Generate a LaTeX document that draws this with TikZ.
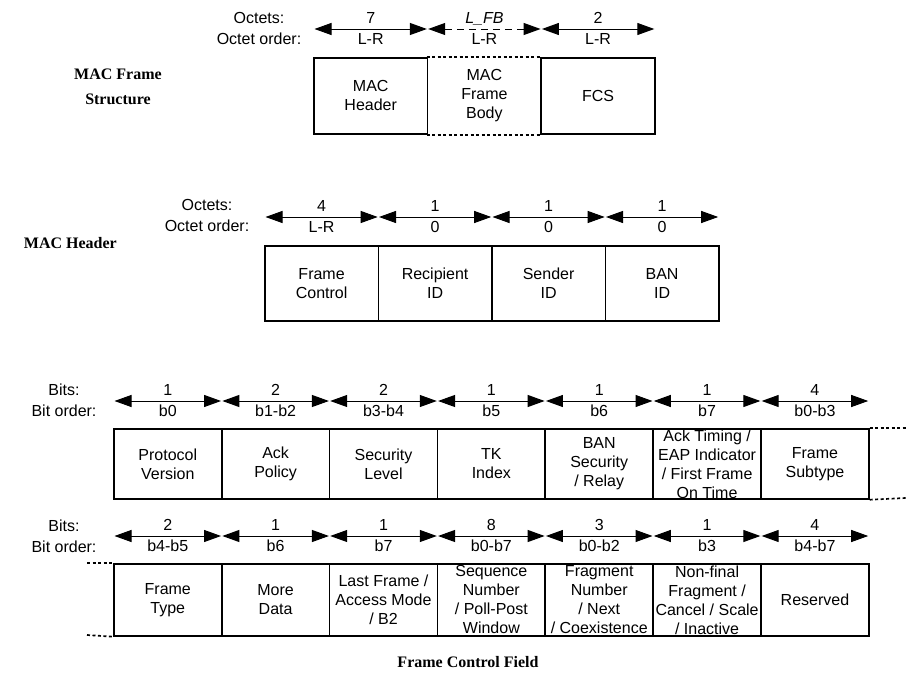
\documentclass[tikz,border=0pt]{standalone}
\usepackage{fontspec}
\setmainfont{Liberation Serif}
\newfontfamily\sansfnt{Liberation Sans}
\usetikzlibrary{arrows.meta}
\begin{document}
\begin{tikzpicture}[x=1pt,y=-1pt,
  cell/.style={draw, line width=1.7pt, inner sep=0pt, anchor=north west,
    align=center, font=\sansfnt\fontsize{16}{19}\selectfont},
  bodycell/.style={cell, draw=none},
  dimarrow/.style={{Triangle[length=17pt,width=12pt]}-{Triangle[length=17pt,width=12pt]},
    line width=1pt, shorten >=1.5pt, shorten <=1.5pt},
  dimlbl/.style={anchor=base, inner sep=0pt, font=\sansfnt\fontsize{16}{19}\selectfont},
  sidelbl/.style={align=center, inner sep=0pt, font=\sansfnt\fontsize{16}{21}\selectfont},
  title/.style={align=center, inner sep=0pt, font=\bfseries\fontsize{16}{25}\selectfont},
  dotedge/.style={line width=1.7pt, dash pattern=on 3pt off 2.5pt}
]
\useasboundingbox (0,0) rectangle (906,696);

% ---------------- MAC frame structure ----------------
\node[title] (tframe) at (118,87) {MAC Frame\\Structure};
\node[sidelbl] (sframe) at (259,28.5) {Octets:\\Octet order:};

\node[cell, minimum width=113.7, minimum height=76] (hdr) at (313,57) {MAC\\Header};
\node[bodycell, minimum width=113.7, minimum height=76] (body) at (426.7,57) {MAC\\Frame\\Body};
\node[cell, minimum width=113.7, minimum height=76] (fcs) at (540.4,57) {FCS};
\draw[dotedge] (body.north west) -- (body.north east);
\draw[dotedge] (body.south west) -- (body.south east);

\draw[dimarrow] ([yshift=28]hdr.north west) -- ([yshift=28]hdr.north east);
\draw[dimarrow, dash pattern=on 7pt off 5pt] ([yshift=28]body.north west) -- ([yshift=28]body.north east);
\draw[dimarrow] ([yshift=28]fcs.north west) -- ([yshift=28]fcs.north east);
\node[dimlbl] (hdrn) at ([yshift=33.5]hdr.north) {7};
\node[dimlbl] (hdro) at ([yshift=12.5]hdr.north) {L-R};
\node[dimlbl] (bodyn) at ([yshift=33.5]body.north) {\itshape L\_FB};
\node[dimlbl] (bodyo) at ([yshift=12.5]body.north) {L-R};
\node[dimlbl] (fcsn) at ([yshift=33.5]fcs.north) {2};
\node[dimlbl] (fcso) at ([yshift=12.5]fcs.north) {L-R};

% ---------------- MAC header ----------------
\node[title, anchor=east] (thdr) at (117,243) {MAC Header};
\node[sidelbl] (shdr) at (207,215.5) {Octets:\\Octet order:};

\foreach \i/\txt/\n/\o in {
    0/{Frame\\Control}/4/L-R,
    1/{Recipient\\ID}/1/0,
    2/{Sender\\ID}/1/0,
    3/{BAN\\ID}/1/0} {
  \node[cell, minimum width=113.5, minimum height=75] (mh\i) at (264+\i*113.5,245) {\txt};
  \draw[dimarrow] ([yshift=28]mh\i.north west) -- ([yshift=28]mh\i.north east);
  \node[dimlbl] (mh\i n) at ([yshift=33.5]mh\i.north) {\n};
  \node[dimlbl] (mh\i o) at ([yshift=12.5]mh\i.north) {\o};
}

% ---------------- Frame control field ----------------
\node[sidelbl] (sfc1) at (64,400.5) {Bits:\\Bit order:};
\node[sidelbl] (sfc2) at (64,536) {Bits:\\Bit order:};

\foreach \i/\txt/\n/\o in {
    0/{Protocol\\Version}/1/b0,
    1/{Ack\\Policy}/2/b1-b2,
    2/{Security\\Level}/2/b3-b4,
    3/{TK\\Index}/1/b5,
    4/{BAN\\Security\\/ Relay}/1/b6,
    5/{Ack Timing /\\EAP Indicator\\/ First Frame\\On Time}/1/b7,
    6/{Frame\\Subtype}/4/b0-b3} {
  \node[cell, minimum width=107.86, minimum height=70] (fa\i) at (113+\i*107.86,428) {\txt};
  \draw[dimarrow] ([yshift=27]fa\i.north west) -- ([yshift=27]fa\i.north east);
  \node[dimlbl] (fa\i n) at ([yshift=32.5]fa\i.north) {\n};
  \node[dimlbl] (fa\i o) at ([yshift=11.5]fa\i.north) {\o};
}

\foreach \i/\txt/\n/\o in {
    0/{Frame\\Type}/2/b4-b5,
    1/{More\\Data}/1/b6,
    2/{Last Frame /\\Access Mode\\/ B2}/1/b7,
    3/{Sequence\\Number\\/ Poll-Post\\Window}/8/b0-b7,
    4/{Fragment\\Number\\/ Next\\/ Coexistence}/3/b0-b2,
    5/{Non-final\\Fragment /\\Cancel / Scale\\/ Inactive}/1/b3,
    6/{Reserved}/4/b4-b7} {
  \node[cell, minimum width=107.86, minimum height=72] (fb\i) at (113+\i*107.86,563) {\txt};
  \draw[dimarrow] ([yshift=27]fb\i.north west) -- ([yshift=27]fb\i.north east);
  \node[dimlbl] (fb\i n) at ([yshift=32.5]fb\i.north) {\n};
  \node[dimlbl] (fb\i o) at ([yshift=11.5]fb\i.north) {\o};
}

% continuation marks between the two halves of the field
\coordinate (cta) at (906,428);
\coordinate (ctb) at (906,498);
\coordinate (cla) at (87,563);
\coordinate (clb) at (87,635);
\draw[dotedge] (fa6.north east) -- (cta);
\draw[dotedge] (fa6.south east) -- (ctb);
\draw[dotedge] (cla) -- (fb0.north west);
\draw[dotedge] (clb) -- (fb0.south west);

\node[title] (tfc) at (468,662) {Frame Control Field};
\end{tikzpicture}
\end{document}
